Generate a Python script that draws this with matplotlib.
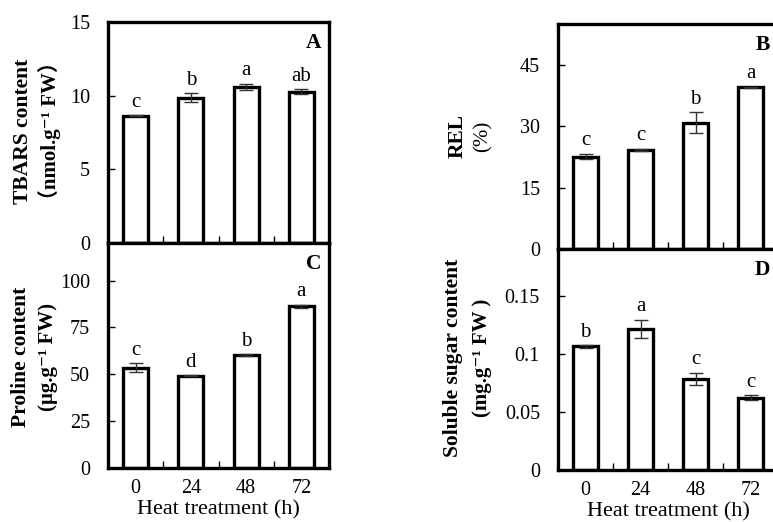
import matplotlib.pyplot as plt
import numpy as np

plt.rcParams['font.family'] = ['Liberation Serif', 'DejaVu Serif', 'Noto Sans CJK SC']

hours = ["0", "24", "48", "72"]

tbars = [8.64, 9.86, 10.61, 10.27]
tbars_err = [0.05, 0.30, 0.20, 0.15]
tbars_sig = ["c", "b", "a", "ab"]

rel = [22.6, 24.2, 30.9, 39.5]
rel_err = [0.7, 0.3, 2.5, 0.2]
rel_sig = ["c", "c", "b", "a"]

proline = [53.4, 49.3, 60.3, 86.2]
proline_err = [2.4, 0.3, 0.4, 1.0]
proline_sig = ["c", "d", "b", "a"]

sugar = [0.1063, 0.1213, 0.0786, 0.0621]
sugar_err = [0.001, 0.008, 0.0052, 0.002]
sugar_sig = ["b", "a", "c", "c"]

W, H = 773, 522
fig = plt.figure(figsize=(W / 100, H / 100), dpi=100)


def px_axes(left, top, right, bottom):
    return fig.add_axes([left / W, 1 - bottom / H, (right - left) / W, (bottom - top) / H])


def px_text(x, y, s, **kw):
    fig.text(x / W, 1 - y / H, s, rotation=90, ha="center", va="center", **kw)


def draw_panel(ax, vals, errs, sig, ylim, yticks, yticklabels, letter, show_x):
    x = np.arange(len(vals))
    ax.bar(x, vals, width=0.45, color="white", edgecolor="black", linewidth=2.4, zorder=2)
    ax.errorbar(x, vals, yerr=errs, fmt="none", ecolor="#333333", elinewidth=1.0,
                capsize=5, capthick=1.0, zorder=3)
    span = ylim[1] - ylim[0]
    for xi, v, e, s in zip(x, vals, errs, sig):
        ax.text(xi, v + e + span * 0.015, s, ha="center", va="bottom", fontsize=15)
    ax.set_xlim(-0.5, 3.5)
    ax.set_ylim(*ylim)
    ax.set_yticks(yticks)
    ax.set_yticklabels(yticklabels)
    ax.set_xticks(x)
    ax.set_xticks([0.5, 1.5, 2.5], minor=True)
    ax.tick_params(axis="x", which="major", length=0, pad=8, labelsize=14.5)
    ax.tick_params(axis="x", which="minor", direction="in", length=5, width=1.0)
    ax.tick_params(axis="y", direction="in", length=5, width=1.0, labelsize=14.5, pad=13)
    if show_x:
        ax.set_xticklabels(hours)
        ax.set_xlabel("Heat treatment (h)", fontsize=16, labelpad=1.5)
    else:
        ax.set_xticklabels([])
    for sp in ax.spines.values():
        sp.set_linewidth(2.4)
    ax.text(0.965, 0.95, letter, transform=ax.transAxes, ha="right", va="top",
            fontsize=15.5, fontweight="bold")


ax_a = px_axes(108, 22, 329, 243)
draw_panel(ax_a, tbars, tbars_err, tbars_sig, (0, 15), [0, 5, 10, 15],
           ["0", "5", "10", "15"], "A", False)
px_text(23, 131, "TBARS content", fontsize=15.5, fontweight="bold")
px_text(50, 131, "（nmol.g⁻¹ FW）", fontsize=15, fontweight="bold")

ax_c = px_axes(108, 243, 329, 468)
draw_panel(ax_c, proline, proline_err, proline_sig, (0, 120), [0, 25, 50, 75, 100],
           ["0", "25", "50", "75", "100"], "C", True)
px_text(21, 357, "Proline content", fontsize=15.5, fontweight="bold")
px_text(48, 357, "(µg.g⁻¹ FW)", fontsize=15, fontweight="bold")

ax_b = px_axes(558, 24, 778, 249)
draw_panel(ax_b, rel, rel_err, rel_sig, (0, 55), [0, 15, 30, 45],
           ["0", "15", "30", "45"], "B", False)
px_text(458, 136, "REL", fontsize=15.5, fontweight="bold")
px_text(483, 136, "(%)", fontsize=15)

ax_d = px_axes(558, 249, 778, 470)
draw_panel(ax_d, sugar, sugar_err, sugar_sig, (0, 0.19), [0, 0.05, 0.1, 0.15],
           ["0", "0.05", "0.1", "0.15"], "D", True)
px_text(453, 358, "Soluble sugar content", fontsize=15.5, fontweight="bold")
px_text(482, 358, "(mg.g⁻¹ FW )", fontsize=15, fontweight="bold")

fig.savefig("out.png", dpi=100)
